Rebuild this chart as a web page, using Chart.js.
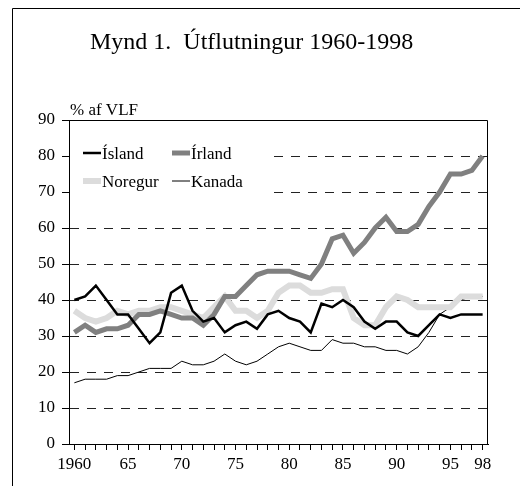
<!DOCTYPE html>
<html>
<head>
<meta charset="utf-8">
<script src="https://cdn.jsdelivr.net/npm/chart.js@4/dist/chart.umd.min.js"></script>
<style>
  body { margin: 0; background: #fff; }
  canvas { display: block; }
</style>
</head>
<body>
<canvas id="myChart" width="520" height="486"></canvas>
<script>
const years = [1960, 1961, 1962, 1963, 1964, 1965, 1966, 1967, 1968, 1969,
  1970, 1971, 1972, 1973, 1974, 1975, 1976, 1977, 1978, 1979,
  1980, 1981, 1982, 1983, 1984, 1985, 1986, 1987, 1988, 1989,
  1990, 1991, 1992, 1993, 1994, 1995, 1996, 1997, 1998];

const tickYears = [1960, 1965, 1970, 1975, 1980, 1985, 1990, 1995, 1998];
const tickLabels = ['1960', '65', '70', '75', '80', '85', '90', '95', '98'];

const island = [40, 41, 44, 40, 36, 36, 32, 28, 31, 42, 44, 37, 34, 35, 31, 33, 34, 32, 36, 37,
  35, 34, 31, 39, 38, 40, 38, 34, 32, 34, 34, 31, 30, 33, 36, 35, 36, 36, 36];
const irland = [31, 33, 31, 32, 32, 33, 36, 36, 37, 36, 35, 35, 33, 36, 41, 41, 44, 47, 48, 48,
  48, 47, 46, 50, 57, 58, 53, 56, 60, 63, 59, 59, 61, 66, 70, 75, 75, 76, 80];
const noregur = [37, 35, 34, 35, 37, 36, 37, 37, 38, 38, 37, 36, 35, 38, 41, 37, 37, 35, 37, 42,
  44, 44, 42, 42, 43, 43, 35, 33, 33, 38, 41, 40, 38, 38, 38, 38, 41, 41, 41];
const kanada = [17, 18, 18, 18, 19, 19, 20, 21, 21, 21, 23, 22, 22, 23, 25, 23, 22, 23, 25, 27,
  28, 27, 26, 26, 29, 28, 28, 27, 27, 26, 26, 25, 27, 31, 36, 38, 40, 41, 41];

const serif = "'Liberation Serif', 'Times New Roman', serif";

// title, unit label, legend and frame drawn by hand
const extras = {
  id: 'extras',
  afterDraw(chart) {
    const c = chart.ctx;
    const a = chart.chartArea;
    c.save();
    c.strokeStyle = '#000';
    c.lineWidth = 1;
    c.beginPath();
    c.moveTo(12.5, 486);
    c.lineTo(12.5, 8.5);
    c.lineTo(520, 8.5);
    c.stroke();
    c.beginPath();
    c.moveTo(a.left, Math.round(a.top) + 0.5);
    c.lineTo(Math.round(a.right) - 0.5, Math.round(a.top) + 0.5);
    c.lineTo(Math.round(a.right) - 0.5, a.bottom);
    c.stroke();

    c.fillStyle = '#000';
    c.textBaseline = 'alphabetic';
    c.textAlign = 'left';
    c.font = '24px ' + serif;
    c.fillText('Mynd 1.  Útflutningur 1960-1998', 90, 49);
    c.font = '17px ' + serif;
    c.fillText('% af VLF', 70, 115);

    // legend box hides the grid behind it
    c.fillStyle = '#fff';
    c.fillRect(a.left + 1, 140, 266 - a.left, 56);
    c.fillStyle = '#000';
    const pos = [[83, 153], [172, 153], [83, 181], [172, 181]];
    chart.data.datasets.forEach((ds, i) => {
      const [x, y] = pos[i];
      c.strokeStyle = ds.borderColor;
      c.lineWidth = ds.borderWidth;
      c.beginPath();
      c.moveTo(x, y);
      c.lineTo(x + 18, y);
      c.stroke();
      c.fillText(ds.label, x + 19, y + 6);
    });
    c.restore();
  }
};

new Chart(document.getElementById('myChart'), {
  type: 'line',
  data: {
    labels: years,
    datasets: [
      { label: 'Ísland', data: island, borderColor: '#000000', borderWidth: 2.5 },
      { label: 'Írland', data: irland, borderColor: '#808080', borderWidth: 5 },
      { label: 'Noregur', data: noregur, borderColor: '#dcdcdc', borderWidth: 6 },
      { label: 'Kanada', data: kanada, borderColor: '#000000', borderWidth: 1 }
    ]
  },
  plugins: [extras],
  options: {
    responsive: false,
    animation: false,
    layout: { padding: { top: 120, right: 32, left: 0, bottom: 0 } },
    elements: {
      point: { radius: 0 },
      line: { tension: 0, borderJoinStyle: 'miter', fill: false }
    },
    plugins: {
      legend: { display: false },
      title: { display: false },
      tooltip: { enabled: false }
    },
    scales: {
      x: {
        type: 'category',
        offset: true,
        grid: { drawOnChartArea: false, offset: false, tickLength: 6, color: '#000' },
        border: { color: '#000', width: 1 },
        ticks: {
          autoSkip: false,
          maxRotation: 0,
          padding: 4,
          color: '#000',
          font: { family: serif, size: 17 },
          callback: function (value, index) {
            const k = tickYears.indexOf(years[index]);
            return k >= 0 ? tickLabels[k] : '';
          }
        },
        afterFit: function (scale) { scale.height = 42; }
      },
      y: {
        min: 0,
        max: 90,
        grid: {
          color: ctx => (ctx.tick && (ctx.tick.value === 0 || ctx.tick.value === 90)) ? 'rgba(0,0,0,0)' : '#222',
          tickColor: '#000',
          tickLength: 7,
          tickBorderDash: [],
          lineWidth: 1
        },
        border: { color: '#000', width: 1, dash: [9, 8] },
        ticks: {
          stepSize: 10,
          padding: 7,
          color: '#000',
          font: { family: serif, size: 17 }
        },
        afterFit: function (scale) { scale.width = 69; }
      }
    }
  }
});
</script>
</body>
</html>
